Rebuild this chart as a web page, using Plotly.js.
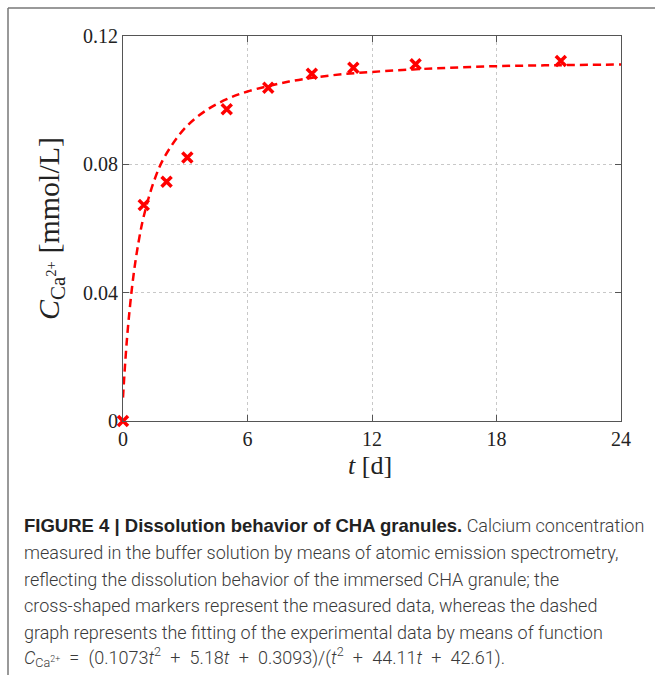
<!DOCTYPE html>
<html>
<head>
<meta charset="utf-8">
<script src="https://cdn.plot.ly/plotly-3.0.1.min.js"></script>
<style>html,body{margin:0;padding:0;background:#fff;} #chart{width:655px;height:675px;}</style>
</head>
<body>
<div id="chart"></div>
<script>
// Measured data (cross markers)
const measuredT = [0, 1, 2.1, 3.1, 5, 7, 9.1, 11.1, 14.1, 21.1];
const measuredC = [0, 0.0673, 0.0746, 0.0821, 0.0972, 0.1039, 0.1082, 0.1101, 0.1112, 0.1122];
// Fitted curve, values
const fitT = [0, 0.1, 0.25, 0.5, 0.75, 1, 1.5, 2, 3, 4, 5, 6, 8, 10, 12, 15, 18, 21, 24];
const fitC = [0.0073, 0.0176, 0.0300, 0.0451, 0.0558, 0.0638, 0.0749, 0.0823, 0.0914, 0.0968, 0.1003, 0.1027, 0.1058, 0.1077, 0.1088, 0.1099, 0.1106, 0.1109, 0.1111];
// Ticks
const xTicks = [0, 6, 12, 18, 24];
const yTicks = [0, 0.04, 0.08, 0.12];
const yTickText = ['0', '0.04', '0.08', '0.12'];
// Caption lines
const sp = '\u2002';
const captionBold = 'FIGURE 4 | Dissolution behavior of CHA granules.';
const captionLines = [
  '<b><span style="font-family:Liberation Sans,Arial,sans-serif;font-size:18.5px;fill:#222;">' + captionBold + '</span></b> Calcium concentration',
  'measured in the buffer solution by means of atomic emission spectrometry,',
  'reflecting the dissolution behavior of the immersed CHA granule; the',
  'cross-shaped markers represent the measured data, whereas the dashed',
  'graph represents the fitting of the experimental data by means of function',
  '<i>C</i><sub>Ca<sup>2+</sup></sub>' + sp + '=' + sp + '(0.1073<i>t</i><sup>2</sup>' + sp + '+' + sp + '5.18<i>t</i>' + sp + '+' + sp + '0.3093)/(<i>t</i><sup>2</sup>' + sp + '+' + sp + '44.11<i>t</i>' + sp + '+' + sp + '42.61).'
];
const captionY = [525, 552, 579, 605, 632, 657];

const W = 655, H = 675;
const mL = 123, mR = 34, mT = 36, mB = 254;
const pw = W - mL - mR, ph = H - mT - mB;
const px2x = p => (p - mL) / pw;
const px2y = p => (H - mB - p) / ph;

const annotations = captionLines.map((txt, i) => ({
  text: txt,
  xref: 'paper', yref: 'paper',
  x: px2x(22), y: px2y(captionY[i]), xanchor: 'left', yanchor: 'middle',
  showarrow: false, align: 'left',
  font: {family: 'Roboto, Liberation Sans, sans-serif', size: 18, color: '#3a3a3a', weight: 300}
}));

const serif = 'Liberation Serif, Times New Roman, serif';

annotations.push({
  text: '<i>t</i> [d]', xref: 'paper', yref: 'paper', x: px2x(370), y: px2y(465),
  xanchor: 'center', yanchor: 'middle', showarrow: false,
  font: {family: serif, size: 26, color: '#222'}
});

const traces = [
  {x: fitT, y: fitC, mode: 'lines', type: 'scatter', line: {color: '#ff0000', width: 2.5, dash: '8px,5px', shape: 'spline'}, hoverinfo: 'skip', cliponaxis: false},
  {x: measuredT, y: measuredC, mode: 'markers', type: 'scatter', marker: {symbol: 'x-thin', size: 10, color: '#ff0000', line: {color: '#ff0000', width: 3.5}}, cliponaxis: false}
];

const layout = {
  width: W, height: H,
  margin: {l: mL, r: mR, t: mT, b: mB},
  paper_bgcolor: '#fff', plot_bgcolor: '#fff',
  showlegend: false,
  font: {family: serif, color: '#222'},
  xaxis: {
    range: [0, 24], tickvals: xTicks, ticks: 'inside', ticklen: 6, tickcolor: '#555',
    showline: true, linecolor: '#555', linewidth: 1, mirror: 'ticks',
    showgrid: true, gridcolor: '#c8c8c8', griddash: 'dot', gridwidth: 1, zeroline: false,
    tickfont: {family: serif, size: 20, color: '#222'}
  },
  yaxis: {
    range: [0, 0.12], tickvals: yTicks, ticktext: yTickText, ticks: 'inside', ticklen: 6, tickcolor: '#555',
    showline: true, linecolor: '#555', linewidth: 1, mirror: 'ticks',
    showgrid: true, gridcolor: '#c8c8c8', griddash: 'dot', gridwidth: 1, zeroline: false,
    tickfont: {family: serif, size: 20, color: '#222'},
    title: {text: '<i>C</i><sub>Ca<sup>2+</sup></sub> [mmol/L]', font: {family: serif, size: 30, color: '#222'}, standoff: 14}
  },
  annotations: annotations,
  shapes: [
    {type: 'line', xref: 'paper', yref: 'paper', x0: px2x(8), x1: px2x(660), y0: px2y(8), y1: px2y(8), line: {color: '#777', width: 1.5}},
    {type: 'line', xref: 'paper', yref: 'paper', x0: px2x(8), x1: px2x(8), y0: px2y(8), y1: px2y(680), line: {color: '#777', width: 1.5}}
  ]
};

Plotly.newPlot('chart', traces, layout, {displayModeBar: false, staticPlot: true});
</script>
</body>
</html>
